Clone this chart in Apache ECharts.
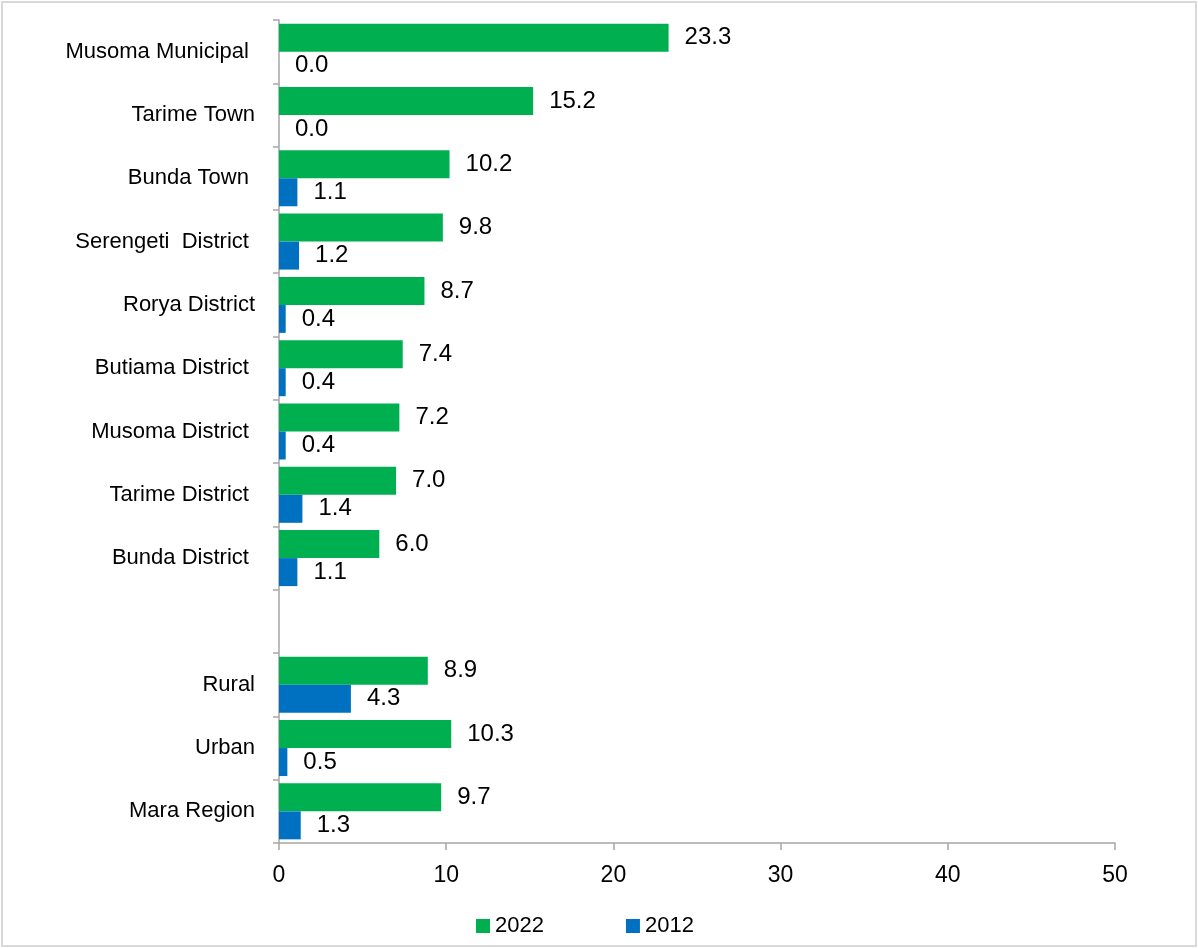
<!DOCTYPE html>
<html>
<head>
<meta charset="utf-8">
<script src="https://cdn.jsdelivr.net/npm/echarts@6/dist/echarts.min.js"></script>
<style>
  html, body { margin: 0; padding: 0; background: #fff; }
  #chart { width: 1198px; height: 948px; }
</style>
</head>
<body>
<div id="chart"></div>
<script>
// Councils listed top to bottom; the empty entry is a spacer row
const categories = [
  'Musoma Municipal ', 'Tarime Town', 'Bunda Town ', 'Serengeti  District ',
  'Rorya District', 'Butiama District ', 'Musoma District ', 'Tarime District ',
  'Bunda District ', '', 'Rural', 'Urban', 'Mara Region'
];
const values2022 = [23.3, 15.2, 10.2, 9.8, 8.7, 7.4, 7.2, 7.0, 6.0, null, 8.9, 10.3, 9.7];
const values2012 = [0.0, 0.0, 1.1, 1.2, 0.4, 0.4, 0.4, 1.4, 1.1, null, 4.3, 0.5, 1.3];
const seriesNames = ['2022', '2012'];
const xTicks = { min: 0, max: 50, interval: 10 };

const FONT = '"Liberation Sans Narrow", "Arial Narrow", "Liberation Sans", Arial, sans-serif';
const AXIS_GRAY = '#a6a6a6';

const chart = echarts.init(document.getElementById('chart'), null, { renderer: 'canvas' });

const labelStyle = {
  show: true,
  position: 'right',
  distance: 16,
  color: '#000',
  fontFamily: FONT,
  fontSize: 24,
  formatter: p => (p.value == null ? '' : Number(p.value).toFixed(1))
};

chart.setOption({
  animation: false,
  backgroundColor: '#fff',
  textStyle: { fontFamily: FONT },
  graphic: [{
    type: 'rect',
    shape: { x: 2, y: 2, width: 1194, height: 944 },
    style: { fill: 'none', stroke: '#d9d9d9', lineWidth: 2 },
    silent: true
  }],
  grid: { left: 279, right: 83, top: 20, bottom: 105, containLabel: false },
  legend: {
    data: seriesNames,
    left: 471,
    top: 910,
    itemWidth: 14,
    itemHeight: 14,
    itemGap: 82,
    icon: 'rect',
    textStyle: { fontFamily: FONT, fontSize: 22, color: '#000', padding: [0, 0, 0, 0] }
  },
  xAxis: {
    type: 'value',
    min: xTicks.min,
    max: xTicks.max,
    interval: xTicks.interval,
    splitLine: { show: false },
    axisLine: { show: true, lineStyle: { color: AXIS_GRAY, width: 1.5 } },
    axisTick: { show: true, length: 7, lineStyle: { color: AXIS_GRAY, width: 1.5 } },
    axisLabel: { color: '#000', fontFamily: FONT, fontSize: 23, margin: 21 }
  },
  yAxis: {
    type: 'category',
    data: categories,
    inverse: true,
    axisLine: { show: true, lineStyle: { color: AXIS_GRAY, width: 1.5 } },
    axisTick: { show: true, length: 6, alignWithLabel: false, lineStyle: { color: AXIS_GRAY, width: 1.5 } },
    axisLabel: { color: '#000', fontFamily: FONT, fontSize: 22, margin: 24 }
  },
  series: [
    {
      name: seriesNames[0],
      type: 'bar',
      data: values2022,
      barWidth: 28,
      barGap: '0%',
      itemStyle: { color: '#00b050' },
      label: labelStyle
    },
    {
      name: seriesNames[1],
      type: 'bar',
      data: values2012,
      barWidth: 28,
      barGap: '0%',
      itemStyle: { color: '#0070c0' },
      label: labelStyle
    }
  ]
});
</script>
</body>
</html>
